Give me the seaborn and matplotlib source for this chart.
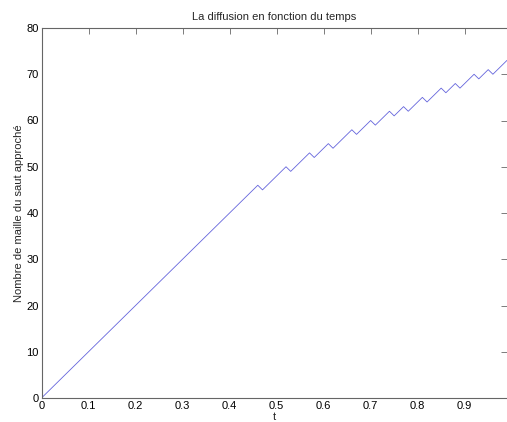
import matplotlib
matplotlib.use("Agg")
import matplotlib.pyplot as plt
import seaborn as sns
import pandas as pd

# === Données (pas de temps 0.01) ===
temps = [
    0.00, 0.01, 0.02, 0.03, 0.04, 0.05, 0.06, 0.07, 0.08, 0.09,
    0.10, 0.11, 0.12, 0.13, 0.14, 0.15, 0.16, 0.17, 0.18, 0.19,
    0.20, 0.21, 0.22, 0.23, 0.24, 0.25, 0.26, 0.27, 0.28, 0.29,
    0.30, 0.31, 0.32, 0.33, 0.34, 0.35, 0.36, 0.37, 0.38, 0.39,
    0.40, 0.41, 0.42, 0.43, 0.44, 0.45, 0.46, 0.47, 0.48, 0.49,
    0.50, 0.51, 0.52, 0.53, 0.54, 0.55, 0.56, 0.57, 0.58, 0.59,
    0.60, 0.61, 0.62, 0.63, 0.64, 0.65, 0.66, 0.67, 0.68, 0.69,
    0.70, 0.71, 0.72, 0.73, 0.74, 0.75, 0.76, 0.77, 0.78, 0.79,
    0.80, 0.81, 0.82, 0.83, 0.84, 0.85, 0.86, 0.87, 0.88, 0.89,
    0.90, 0.91, 0.92, 0.93, 0.94, 0.95, 0.96, 0.97, 0.98, 0.99,
]
mailles = [
    0, 1, 2, 3, 4, 5, 6, 7, 8, 9,
    10, 11, 12, 13, 14, 15, 16, 17, 18, 19,
    20, 21, 22, 23, 24, 25, 26, 27, 28, 29,
    30, 31, 32, 33, 34, 35, 36, 37, 38, 39,
    40, 41, 42, 43, 44, 45, 46, 45, 46, 47,
    48, 49, 50, 49, 50, 51, 52, 53, 52, 53,
    54, 55, 54, 55, 56, 57, 58, 57, 58, 59,
    60, 59, 60, 61, 62, 61, 62, 63, 62, 63,
    64, 65, 64, 65, 66, 67, 66, 67, 68, 67,
    68, 69, 70, 69, 70, 71, 70, 71, 72, 73,
]

xticks = [0, 0.1, 0.2, 0.3, 0.4, 0.5, 0.6, 0.7, 0.8, 0.9]
xticklabels = ["0", "0.1", "0.2", "0.3", "0.4", "0.5", "0.6", "0.7", "0.8", "0.9"]
yticks = [0, 10, 20, 30, 40, 50, 60, 70, 80]

df = pd.DataFrame({"t": temps, "n": mailles})

# === Style ===
sns.set_style("white")
plt.rcParams["font.family"] = ["Liberation Sans", "DejaVu Sans"]
plt.rcParams["font.size"] = 8

fig = plt.figure(figsize=(5.07, 4.22), dpi=100)
ax = fig.add_axes([41.5 / 507, 1 - 398 / 422, 1 - 41.5 / 507, (398 - 28) / 422])

sns.lineplot(data=df, x="t", y="n", ax=ax, color="#6464dc", linewidth=0.6)

ax.set_xlim(0, 0.99)
ax.set_ylim(0, 80)
ax.set_xticks(xticks)
ax.set_xticklabels(xticklabels)
ax.set_yticks(yticks)

for s in ["left", "bottom", "top"]:
    ax.spines[s].set_color("#666666")
    ax.spines[s].set_linewidth(0.8)
ax.spines["right"].set_visible(False)
ax.tick_params(direction="in", length=4, width=0.6, color="#666666",
               top=True, right=True, labelsize=8, pad=2, labelcolor="black")

ax.set_title("La diffusion en fonction du temps", fontsize=8, pad=6)
ax.set_xlabel("t", fontsize=8, labelpad=1)
ax.set_ylabel("Nombre de maille du saut approché", fontsize=8, labelpad=2)

fig.savefig("out.png", dpi=100, facecolor="white")
